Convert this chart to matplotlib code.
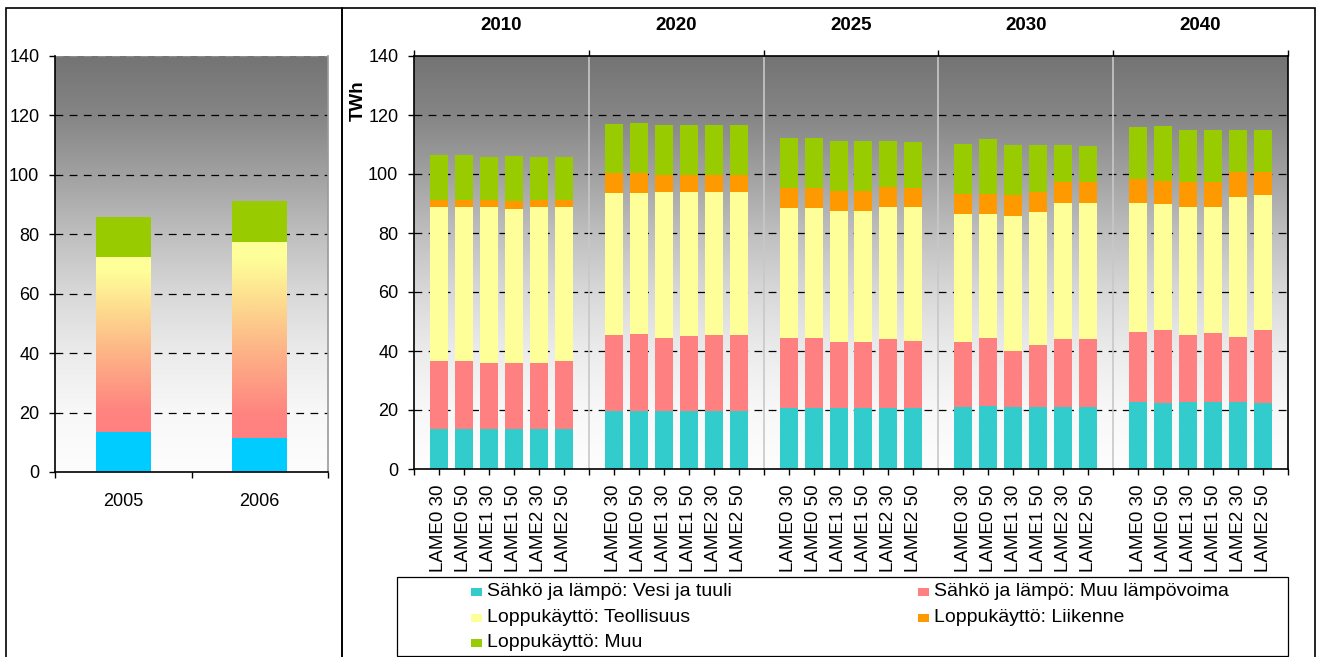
import numpy as np
import matplotlib
matplotlib.use("Agg")
import matplotlib.pyplot as plt
from matplotlib.colors import LinearSegmentedColormap
from matplotlib.patches import Rectangle
from matplotlib.transforms import blended_transform_factory

plt.rcParams["font.family"] = ["Liberation Sans", "DejaVu Sans"]
plt.rcParams["lines.scale_dashes"] = False

# ---- data: historical years (left chart) ----
hist_years = ["2005", "2006"]
hist_vesi = [13.5, 11.5]          # Sähkö ja lämpö: Vesi ja tuuli
hist_lampo_teoll = [58.9, 65.9]   # lämpövoima + teollisuus (gradient segment)
hist_muu = [13.3, 13.7]           # Loppukäyttö: Muu

# ---- data: scenarios (right chart) ----
groups = ["2010", "2020", "2025", "2030", "2040"]
scenarios = ["LAME0 30", "LAME0 50", "LAME1 30", "LAME1 50", "LAME2 30", "LAME2 50"]

vesi_tuuli = [13.6, 13.6, 13.6, 13.6, 13.6, 13.6,
              19.7, 19.7, 19.7, 19.7, 19.7, 19.7,
              20.8, 20.8, 20.8, 20.8, 20.8, 20.8,
              21.0, 21.5, 21.0, 21.0, 21.0, 21.0,
              22.8, 22.4, 22.8, 22.8, 22.8, 22.4]
muu_lampovoima = [23.0, 23.0, 22.3, 22.3, 22.3, 23.0,
                  25.7, 26.2, 24.8, 25.5, 25.7, 25.7,
                  23.7, 23.7, 22.4, 22.4, 23.3, 22.6,
                  22.2, 23.0, 19.0, 21.0, 23.1, 23.1,
                  23.6, 24.7, 22.6, 23.3, 21.9, 24.7]
teollisuus = [52.2, 52.2, 52.9, 52.2, 52.9, 52.2,
              48.2, 47.7, 49.5, 48.8, 48.6, 48.6,
              44.1, 44.1, 44.4, 44.4, 44.7, 45.4,
              43.2, 41.9, 45.8, 45.1, 46.1, 46.1,
              43.8, 42.7, 43.4, 42.7, 47.5, 45.8]
liikenne = [2.5, 2.5, 2.5, 2.7, 2.5, 2.5,
            6.7, 6.7, 5.7, 5.7, 5.7, 5.7,
            6.8, 6.8, 6.6, 6.6, 6.8, 6.6,
            6.9, 6.9, 7.1, 6.9, 7.2, 7.2,
            8.1, 7.8, 8.6, 8.6, 8.6, 7.9]
muu = [15.1, 15.1, 14.5, 15.3, 14.5, 14.5,
       16.6, 17.0, 16.9, 16.9, 16.9, 16.9,
       16.9, 16.9, 17.0, 17.0, 15.6, 15.4,
       16.9, 18.6, 16.9, 15.8, 12.4, 12.1,
       17.6, 18.7, 17.5, 17.5, 14.1, 14.1]

series_names = ["Sähkö ja lämpö: Vesi ja tuuli", "Sähkö ja lämpö: Muu lämpövoima",
                "Loppukäyttö: Teollisuus", "Loppukäyttö: Liikenne", "Loppukäyttö: Muu"]
series_colors = ["#33CCCC", "#FF8080", "#FFFF99", "#FF9900", "#99CC00"]

# ---- figure layout (pixel helpers) ----
W, H = 1319, 657
fig = plt.figure(figsize=(W / 100, H / 100), dpi=100)
fig.patch.set_facecolor("white")


def fx(px):
    return px / W


def fy(py):
    return 1 - py / H


axL = fig.add_axes([fx(55), fy(472), (328 - 55) / W, (472 - 56) / H])
axR = fig.add_axes([fx(414), fy(469), (1288 - 414) / W, (469 - 56) / H])

bg_cmap = LinearSegmentedColormap.from_list(
    "bg", [(0.0, "#fdfdfd"), (0.14, "#f8f8f8"), (0.28, "#ececec"), (0.43, "#d8d8d8"),
           (0.57, "#bfbfbf"), (0.71, "#a2a2a2"), (0.86, "#858585"), (1.0, "#747474")])
mid_cmap = LinearSegmentedColormap.from_list(
    "mid", [(0.0, "#FF8080"), (0.12, "#FF8480"), (0.45, "#FDB487"),
            (0.7, "#FDDC8F"), (0.92, "#FFFF99"), (1.0, "#FFFF99")])
grad = np.linspace(0, 1, 256).reshape(-1, 1)

tick_len = 6 * 0.72
dash = (5.6, 4.6)


def style_background(ax, x0, x1, grid_vals, top_line=False):
    ax.imshow(grad, extent=[x0, x1, 0, 140], origin="lower", aspect="auto",
              cmap=bg_cmap, zorder=0)
    for v in grid_vals:
        ax.axhline(v, color="black", lw=0.9, dashes=dash, zorder=1)
    if top_line:
        ax.axhline(140, color="#8c8c8c", lw=1.0, dashes=dash, zorder=1)
    ax.set_xlim(x0, x1)
    ax.set_ylim(0, 140)
    ax.set_yticks(np.arange(0, 141, 20))
    ax.tick_params(axis="y", direction="out", length=tick_len, width=1,
                   labelsize=13, pad=7)


# ---- left chart ----
xl = np.arange(len(hist_years))
style_background(axL, -0.5, 1.5, range(20, 121, 20), top_line=True)
hv = np.array(hist_vesi)
hm = np.array(hist_lampo_teoll)
axL.bar(xl, hv, width=0.4, color="#00CCFF", zorder=2)
mid_bars = axL.bar(xl, hm, bottom=hv, width=0.4, color="none", zorder=2)
for rect in mid_bars:
    x0, y0 = rect.get_x(), rect.get_y()
    im = axL.imshow(grad, extent=[x0, x0 + rect.get_width(), y0, y0 + rect.get_height()],
                    origin="lower", aspect="auto", cmap=mid_cmap, zorder=2)
    im.set_clip_path(rect)
axL.bar(xl, hist_muu, bottom=hv + hm, width=0.4, color="#99CC00", zorder=2)
axL.set_xlim(-0.5, 1.5)
axL.set_ylim(0, 140)
axL.set_xticks([-0.5, 0.5, 1.5])
axL.set_xticklabels([])
axL.set_xticks(xl, minor=True)
axL.set_xticklabels(hist_years, minor=True)
axL.tick_params(axis="x", which="major", direction="out", length=tick_len, width=1)
axL.tick_params(axis="x", which="minor", length=0, labelsize=13, pad=15)
for s in ["left", "bottom"]:
    axL.spines[s].set_color("black")
    axL.spines[s].set_linewidth(1.2)
axL.spines["top"].set_visible(False)
axL.spines["right"].set_color("#9a9a9a")
axL.spines["right"].set_linewidth(1.2)

# ---- right chart ----
n_slot = 7
xpos = np.array([n_slot * g + k for g in range(len(groups)) for k in range(1, 7)])
x_end = n_slot * len(groups)
style_background(axR, 0, x_end, range(20, 121, 20))
for g in range(1, len(groups)):
    axR.axvline(n_slot * g, color="#c8c8c8", lw=1.2, zorder=1.5)
bottom = np.zeros(len(xpos))
for vals, col in zip([vesi_tuuli, muu_lampovoima, teollisuus, liikenne, muu], series_colors):
    axR.bar(xpos, vals, bottom=bottom, width=0.72, color=col, zorder=2)
    bottom += np.array(vals)
axR.set_xlim(0, x_end)
axR.set_ylim(0, 140)
axR.set_xticks(xpos)
axR.set_xticklabels(scenarios * len(groups), rotation=90, fontsize=13.5)
axR.set_xticks(np.arange(0, x_end + 1, n_slot), minor=True)
axR.tick_params(axis="x", which="major", direction="out", length=tick_len, width=1, pad=7)
axR.tick_params(axis="x", which="minor", direction="out", length=tick_len, width=1,
                top=True, bottom=True, labelbottom=False)
for s in axR.spines.values():
    s.set_color("black")
    s.set_linewidth(1.2)

trans = blended_transform_factory(axR.transData, fig.transFigure)
for g, label in enumerate(groups):
    axR.text(n_slot * g + 3.5, fy(26), label, transform=trans, ha="center", va="center",
             fontsize=13.5, fontweight="bold")
fig.text(fx(358), fy(101), "TWh", rotation=90, ha="center", va="center",
         fontsize=13.5, fontweight="bold")

# ---- chart frames ----
fig.add_artist(Rectangle((fx(5.5), -0.02), fx(342) - fx(5.5), fy(8) + 0.02,
                         transform=fig.transFigure, fill=False, ec="black", lw=1.2))
fig.add_artist(Rectangle((fx(342), -0.02), fx(1315) - fx(342), fy(8) + 0.02,
                         transform=fig.transFigure, fill=False, ec="black", lw=1.2))

# ---- legend ----
fig.add_artist(Rectangle((fx(397), fy(656)), fx(1288) - fx(397), fy(577) - fy(656),
                         transform=fig.transFigure, fc="white", ec="black", lw=0.9))
legend_cols = [471, 918]
legend_rows = [596, 622, 647]
for i, (name, col) in enumerate(zip(series_names, series_colors)):
    cx = legend_cols[i % 2]
    ry = legend_rows[i // 2]
    fig.add_artist(Rectangle((fx(cx), fy(ry)), 11 / W, 8 / H, transform=fig.transFigure,
                             fc=col, ec="none"))
    fig.text(fx(cx + 16), fy(ry), name, ha="left", va="baseline", fontsize=14)

fig.savefig("out.png", dpi=100)
